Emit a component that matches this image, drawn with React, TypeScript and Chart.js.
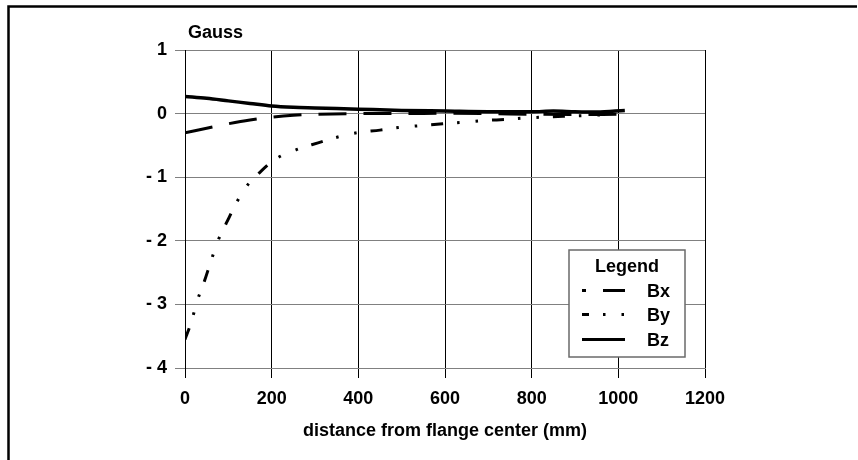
import React, { useEffect, useRef } from 'react';
import { Chart, registerables } from 'chart.js';

Chart.register(...registerables);

// ---- data ----
const xMin = 0;
const xMax = 1200;
const xStep = 200;
const yMin = -4;
const yMax = 1;
const yStep = 1;

const seriesNames = ['Bx', 'By', 'Bz'];

const bxDist = [0, 50, 100, 150, 200, 250, 300, 400, 500, 600, 700, 800, 900, 1000];
const bxVals = [-0.30, -0.23, -0.16, -0.10, -0.055, -0.025, -0.01, 0, 0, 0.005, 0, -0.01, -0.015, -0.01];

const byDist = [0, 14, 28, 46, 58, 76, 97, 115, 138, 178, 210, 256, 307, 346, 397, 450, 492, 542, 595, 637, 690, 743, 785, 842, 888, 932, 985];
const byVals = [-3.55, -3.29, -2.95, -2.61, -2.36, -2.0, -1.70, -1.45, -1.18, -0.89, -0.71, -0.57, -0.46, -0.38, -0.30, -0.26, -0.22, -0.19, -0.16, -0.14, -0.11, -0.09, -0.07, -0.05, -0.04, -0.03, -0.01];

const bzDist = [0, 50, 100, 150, 200, 250, 300, 400, 500, 600, 700, 800, 850, 900, 950, 1015];
const bzVals = [0.27, 0.24, 0.20, 0.16, 0.12, 0.10, 0.09, 0.07, 0.05, 0.04, 0.03, 0.03, 0.04, 0.03, 0.025, 0.05];

const yUnit = 'Gauss';
const xTitle = 'distance from flange center (mm)';
const legendTitle = 'Legend';

const FONT = "'Liberation Sans', Arial, Helvetica, sans-serif";
const GRAY = '#808080';

const toPts = (xs: number[], ys: number[]) => xs.map((x, i) => ({ x, y: ys[i] }));

const framePlugin = {
  id: 'frame',
  beforeDraw(chart: any) {
    const ctx = chart.ctx;
    ctx.save();
    ctx.fillStyle = '#fff';
    ctx.fillRect(0, 0, chart.width, chart.height);
    ctx.strokeStyle = '#000';
    ctx.lineWidth = 2.5;
    ctx.beginPath();
    ctx.moveTo(8.5, chart.height);
    ctx.lineTo(8.5, 6.5);
    ctx.lineTo(chart.width - 1, 6.5);
    ctx.stroke();
    ctx.restore();
  },
};

const labelsPlugin = {
  id: 'extraLabels',
  afterDraw(chart: any) {
    const ctx = chart.ctx;
    const a = chart.chartArea;
    ctx.save();
    // unit label
    ctx.font = `bold 18px ${FONT}`;
    ctx.fillStyle = '#000';
    ctx.textAlign = 'left';
    ctx.textBaseline = 'alphabetic';
    ctx.fillText(yUnit, a.left + 3, a.top - 12);

    // legend box
    const bx = a.right - 136;
    const by = a.top + 200;
    const bw = 116;
    const bh = 107;
    ctx.fillStyle = '#fff';
    ctx.fillRect(bx, by, bw, bh);
    ctx.strokeStyle = '#6a6a6a';
    ctx.lineWidth = 1.5;
    ctx.strokeRect(bx, by, bw, bh);

    ctx.fillStyle = '#000';
    ctx.textAlign = 'center';
    ctx.fillText(legendTitle, bx + bw / 2, by + 22);

    const baselines = [47, 71, 96];
    const offsets = [24, 5, 0];
    chart.data.datasets.forEach((ds: any, i: number) => {
      const yb = by + baselines[i];
      const ly = yb - 6.5;
      ctx.save();
      ctx.strokeStyle = '#000';
      ctx.lineWidth = 3;
      ctx.lineCap = 'butt';
      ctx.setLineDash(ds.borderDash || []);
      ctx.lineDashOffset = offsets[i];
      ctx.beginPath();
      ctx.moveTo(bx + 13, ly);
      ctx.lineTo(bx + 56, ly);
      ctx.stroke();
      ctx.restore();
      ctx.textAlign = 'left';
      ctx.fillText(ds.label, bx + 78, yb);
    });
    ctx.restore();
  },
};

export default function App() {
  const ref = useRef<HTMLCanvasElement | null>(null);

  useEffect(() => {
    if (!ref.current) return;
    Chart.defaults.font.family = FONT;
    const chart = new Chart(ref.current, {
      type: 'line',
      data: {
        datasets: [
          {
            label: seriesNames[0],
            data: toPts(bxDist, bxVals),
            borderColor: '#000',
            borderWidth: 3,
            borderDash: [28, 17],
            pointRadius: 0,
            cubicInterpolationMode: 'monotone',
            fill: false,
          },
          {
            label: seriesNames[1],
            data: toPts(byDist, byVals),
            borderColor: '#000',
            borderWidth: 3,
            borderDash: [12, 14, 2.5, 16, 2.5, 14],
            pointRadius: 0,
            cubicInterpolationMode: 'monotone',
            fill: false,
          },
          {
            label: seriesNames[2],
            data: toPts(bzDist, bzVals),
            borderColor: '#000',
            borderWidth: 3.5,
            pointRadius: 0,
            cubicInterpolationMode: 'monotone',
            fill: false,
          },
        ],
      },
      options: {
        responsive: false,
        maintainAspectRatio: false,
        animation: false,
        devicePixelRatio: 1,
        layout: { padding: { left: 0, right: 153, top: 50, bottom: 0 } },
        plugins: {
          legend: { display: false },
          tooltip: { enabled: false },
          title: { display: false },
        },
        scales: {
          x: {
            type: 'linear',
            min: xMin,
            max: xMax,
            ticks: {
              stepSize: xStep,
              padding: 10,
              color: '#000',
              font: { size: 18, weight: 'bold', family: FONT },
              maxRotation: 0,
              callback: (v: any) => String(v),
            },
            grid: { color: '#000', lineWidth: 1, tickLength: 10, drawTicks: true },
            border: { color: GRAY, width: 1 },
            title: {
              display: true,
              text: xTitle,
              color: '#000',
              font: { size: 18, weight: 'bold', family: FONT },
              padding: { top: 0, bottom: 18 },
            },
            afterFit: (s: any) => {
              s.height = 92;
            },
          },
          y: {
            type: 'linear',
            min: yMin,
            max: yMax,
            ticks: {
              stepSize: yStep,
              padding: 8,
              color: '#000',
              font: { size: 18, weight: 'bold', family: FONT },
              callback: (v: any) => (Number(v) < 0 ? '- ' + Math.abs(Number(v)) : String(v)),
            },
            grid: { color: GRAY, lineWidth: 1, tickLength: 10, drawTicks: true },
            border: { color: '#000', width: 1 },
            afterFit: (s: any) => {
              s.width = 185;
            },
          },
        },
      },
      plugins: [framePlugin, labelsPlugin],
    } as any);
    return () => chart.destroy();
  }, []);

  return (
    <div style={{ position: 'absolute', left: 0, top: 0, width: 858, height: 460 }}>
      <canvas ref={ref} width={858} height={460} style={{ width: 858, height: 460, display: 'block' }} />
    </div>
  );
}
